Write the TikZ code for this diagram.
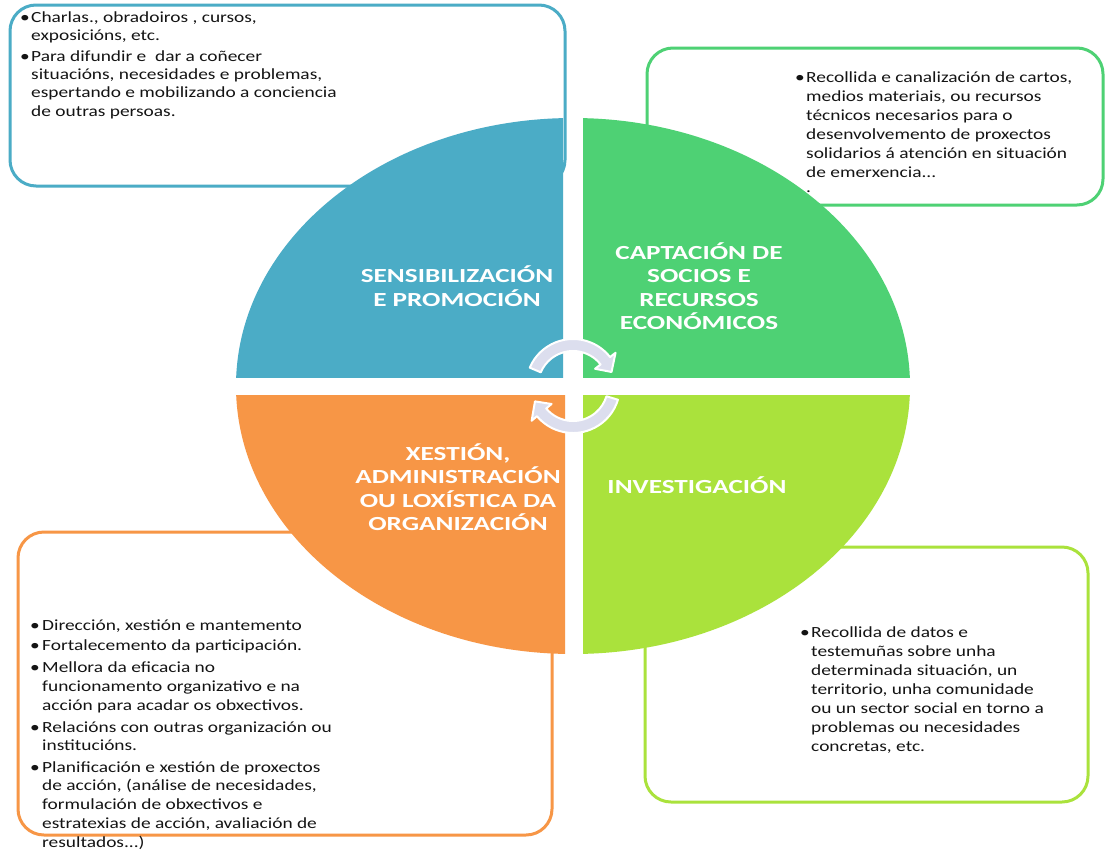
\documentclass[tikz,border=0pt]{standalone}
\usepackage{fontspec}
\setmainfont{Carlito}
\definecolor{qblue}{HTML}{4BACC6}
\definecolor{qgreen}{HTML}{4ED174}
\definecolor{qorange}{HTML}{F79646}
\definecolor{qlime}{HTML}{AAE23C}
\definecolor{arrowfill}{HTML}{DCDEEE}
\definecolor{txt}{HTML}{141414}
\newcommand{\stretchtxt}[1]{\scalebox{1.25}[1]{#1}}
\newcommand{\stretchlbl}[1]{\scalebox{1.36}[1]{#1}}
\begin{document}
\begin{tikzpicture}[x=1pt,y=-1pt,
  infobox/.style={line width=3pt, rounded corners=26pt, fill=white},
  bodyline/.style={anchor=base west, inner sep=0pt, text=txt, font=\fontsize{15.5}{18}\selectfont},
  bulletmark/.style={anchor=base west, inner sep=0pt, text=txt, font=\fontsize{15.5}{18}\selectfont},
  quadlabel/.style={align=center, text=white, inner sep=0pt, font=\fontsize{20}{23.5}\selectfont\bfseries},
  cyclearrow/.style={fill=arrowfill, draw=white, line width=2pt, line join=round}]
\useasboundingbox (0,0) rectangle (1113,852);
\fill[white] (0,0) rectangle (1113,852);

% information boxes (under the quadrants)
\draw[infobox, draw=qblue]   (10,5)   rectangle (565,186);
\draw[infobox, draw=qgreen]  (647,48) rectangle (1103,205);
\draw[infobox, draw=qorange] (18,532) rectangle (552,835);
\draw[infobox, draw=qlime]   (645,547) rectangle (1088,802);

% quadrants
\begin{scope}
  \clip (0,0) rectangle (563,377);
  \fill[qblue] (573,386) ellipse [x radius=337, y radius=268];
\end{scope}
\begin{scope}
  \clip (583,0) rectangle (1113,377);
  \fill[qgreen] (573,386) ellipse [x radius=337, y radius=268];
\end{scope}
\begin{scope}
  \clip (0,395) rectangle (565,852);
  \fill[qorange] (573,386) ellipse [x radius=337, y radius=268];
\end{scope}
\begin{scope}
  \clip (583,395) rectangle (1113,852);
  \fill[qlime] (573,386) ellipse [x radius=337, y radius=268];
\end{scope}

% cycle arrows
\draw[cyclearrow, shift={(573,386)}]
  (203:47) arc[start angle=203, end angle=322, radius=47]
  -- (322:54) -- (340:41) -- (322:28) -- (322:35)
  arc[start angle=322, end angle=203, radius=35] -- cycle;
\draw[cyclearrow, shift={(573,386)}]
  (17:47) arc[start angle=17, end angle=140, radius=47]
  -- (140:54) -- (158:41) -- (140:28) -- (140:35)
  arc[start angle=140, end angle=17, radius=35] -- cycle;

% quadrant labels
\node[quadlabel] (sens) at (457,286) {\stretchlbl{SENSIBILIZACIÓN}\\\stretchlbl{E PROMOCIÓN}};
\node[quadlabel] (capt) at (699,286) {\stretchlbl{CAPTACIÓN DE}\\\stretchlbl{SOCIOS E}\\\stretchlbl{RECURSOS}\\\stretchlbl{ECONÓMICOS}};
\node[quadlabel] (xest) at (458,487) {\stretchlbl{XESTIÓN,}\\\stretchlbl{ADMINISTRACIÓN}\\\stretchlbl{OU LOXÍSTICA DA}\\\stretchlbl{ORGANIZACIÓN}};
\node[quadlabel] (inv)  at (697,485) {\stretchlbl{INVESTIGACIÓN}};

% blue box text
\node[bulletmark] (bb1) at (20,22) {\stretchtxt{•}};
\node[bodyline] (bl1) at (31,22) {\stretchtxt{Charlas., obradoiros , cursos,}};
\node[bodyline] (bl2) at (31,40) {\stretchtxt{exposicións, etc.}};
\node[bulletmark] (bb2) at (20,61) {\stretchtxt{•}};
\node[bodyline] (bl3) at (31,61) {\stretchtxt{Para difundir e\ \ dar a coñecer}};
\node[bodyline] (bl4) at (31,79) {\stretchtxt{situacións, necesidades e problemas,}};
\node[bodyline] (bl5) at (31,97) {\stretchtxt{espertando e mobilizando a conciencia}};
\node[bodyline] (bl6) at (31,116) {\stretchtxt{de outras persoas.}};

% green box text
\node[bulletmark] (gb1) at (795,82) {\stretchtxt{•}};
\node[bodyline] (gl1) at (806,82)  {\stretchtxt{Recollida e canalización de cartos,}};
\node[bodyline] (gl2) at (806,101) {\stretchtxt{medios materiais, ou recursos}};
\node[bodyline] (gl3) at (806,120) {\stretchtxt{técnicos necesarios para o}};
\node[bodyline] (gl4) at (806,139) {\stretchtxt{desenvolvemento de proxectos}};
\node[bodyline] (gl5) at (806,158) {\stretchtxt{solidarios á atención en situación}};
\node[bodyline] (gl6) at (806,177) {\stretchtxt{de emerxencia...}};
\node[bodyline] (gl7) at (806,192) {\stretchtxt{.}};

% orange box text
\node[bulletmark] (ob1) at (30,630) {\stretchtxt{•}};
\node[bodyline] (ol1) at (42,630) {\stretchtxt{Dirección, xestión e mantemento}};
\node[bulletmark] (ob2) at (30,650) {\stretchtxt{•}};
\node[bodyline] (ol2) at (42,650) {\stretchtxt{Fortalecemento da participación.}};
\node[bulletmark] (ob3) at (30,672) {\stretchtxt{•}};
\node[bodyline] (ol3) at (42,672) {\stretchtxt{Mellora da eficacia no}};
\node[bodyline] (ol4) at (42,691) {\stretchtxt{funcionamento organizativo e na}};
\node[bodyline] (ol5) at (42,710) {\stretchtxt{acción para acadar os obxectivos.}};
\node[bulletmark] (ob4) at (30,732) {\stretchtxt{•}};
\node[bodyline] (ol6) at (42,732) {\stretchtxt{Relacións con outras organización ou}};
\node[bodyline] (ol7) at (42,750) {\stretchtxt{institucións.}};
\node[bulletmark] (ob5) at (30,772) {\stretchtxt{•}};
\node[bodyline] (ol8) at (42,772) {\stretchtxt{Planificación e xestión de proxectos}};
\node[bodyline] (ol9) at (42,790) {\stretchtxt{de acción, (análise de necesidades,}};
\node[bodyline] (ol10) at (42,809) {\stretchtxt{formulación de obxectivos e}};
\node[bodyline] (ol11) at (42,828) {\stretchtxt{estratexias de acción, avaliación de}};
\node[bodyline] (ol12) at (42,847) {\stretchtxt{resultados...)}};

% lime box text
\node[bulletmark] (lb1) at (800,637) {\stretchtxt{•}};
\node[bodyline] (ll1) at (811,637) {\stretchtxt{Recollida de datos e}};
\node[bodyline] (ll2) at (811,656) {\stretchtxt{testemuñas sobre unha}};
\node[bodyline] (ll3) at (811,675) {\stretchtxt{determinada situación, un}};
\node[bodyline] (ll4) at (811,694) {\stretchtxt{territorio, unha comunidade}};
\node[bodyline] (ll5) at (811,713) {\stretchtxt{ou un sector social en torno a}};
\node[bodyline] (ll6) at (811,732) {\stretchtxt{problemas ou necesidades}};
\node[bodyline] (ll7) at (811,751) {\stretchtxt{concretas, etc.}};
\end{tikzpicture}
\end{document}
